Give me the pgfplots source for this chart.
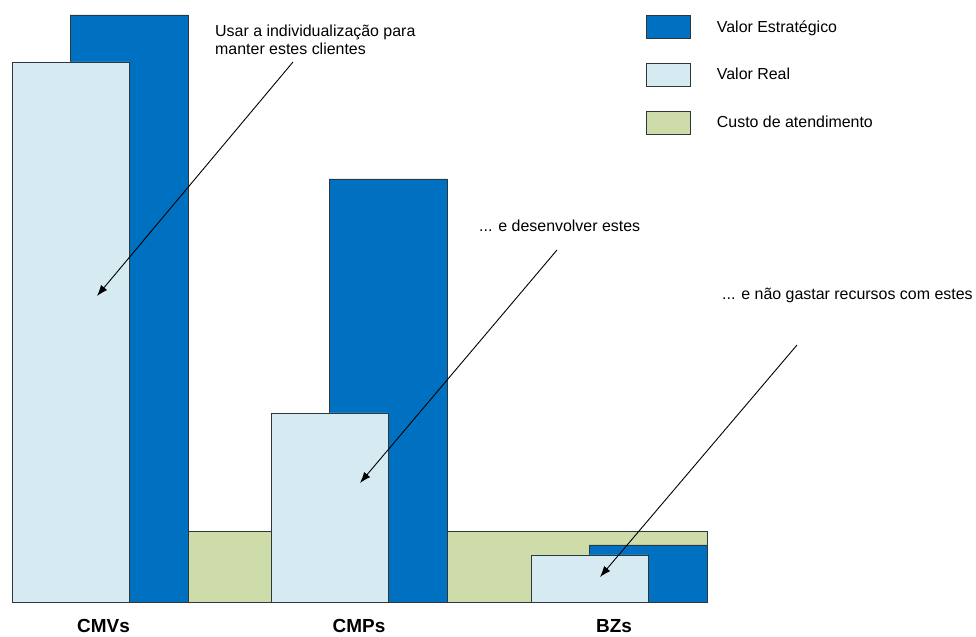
\documentclass[border=0pt]{standalone}
\usepackage{pgfplots}
\pgfplotsset{compat=1.18}
\usepackage{fontspec}
\setmainfont{Liberation Sans}
\usetikzlibrary{arrows.meta}
\definecolor{darkblue}{RGB}{0,112,192}
\definecolor{lightblue}{RGB}{214,234,241}
\definecolor{custgreen}{RGB}{206,220,170}
\definecolor{edge}{RGB}{45,55,60}
\begin{document}
\begin{tikzpicture}
\begin{axis}[
  name=ax,
  width=976bp, height=637bp, scale only axis,
  xmin=0, xmax=976, ymin=-35, ymax=602,
  hide axis, clip=false,
  legend style={at={(axis cs:646,587)}, anchor=north west, draw=none, fill=none,
    inner sep=0pt, outer sep=0pt, row sep=24bp, column sep=26bp,
    nodes={inner sep=0pt}, font=\fontsize{16}{19}\selectfont},
  legend cell align=left,
]
% Custo de atendimento (behind)
\addplot[ybar, bar shift=0pt, bar width=519, fill=custgreen, draw=edge, line width=0.9bp, forget plot]
  coordinates {(447.5,71)};
% Valor Estrategico
\addplot[ybar, bar shift=0pt, bar width=118, fill=darkblue, draw=edge, line width=0.9bp, forget plot]
  coordinates {(129,587) (388,423) (648,57)};
% Valor Real
\addplot[ybar, bar shift=0pt, bar width=117, fill=lightblue, draw=edge, line width=0.9bp, forget plot]
  coordinates {(70.5,540) (330,189) (589.5,47)};

\addlegendimage{legend image code/.code={\draw[fill=darkblue,draw=edge,line width=0.9bp] (0bp,-11.5bp) rectangle (44bp,11.5bp);}}
\addlegendentry{Valor Estratégico}
\addlegendimage{legend image code/.code={\draw[fill=lightblue,draw=edge,line width=0.9bp] (0bp,-11.5bp) rectangle (44bp,11.5bp);}}
\addlegendentry{Valor Real}
\addlegendimage{legend image code/.code={\draw[fill=custgreen,draw=edge,line width=0.9bp] (0bp,-11.5bp) rectangle (44bp,11.5bp);}}
\addlegendentry{Custo de atendimento}

% category labels
\node[anchor=base, inner sep=0pt, font=\bfseries\fontsize{19}{22}\selectfont] at (axis cs:103.5,-30) {CMVs};
\node[anchor=base, inner sep=0pt, font=\bfseries\fontsize{19}{22}\selectfont] at (axis cs:359,-30) {CMPs};
\node[anchor=base, inner sep=0pt, font=\bfseries\fontsize{19}{22}\selectfont] at (axis cs:614,-30) {BZs};

% annotations
\node[anchor=base west, inner sep=0pt, font=\fontsize{16}{19}\selectfont] at (axis cs:215,565) {Usar a individualização para};
\node[anchor=base west, inner sep=0pt, font=\fontsize{16}{19}\selectfont] at (axis cs:215,547) {manter estes clientes};
\node[anchor=base west, inner sep=0pt, font=\fontsize{16}{19}\selectfont] at (axis cs:479,370) {... e desenvolver estes};
\node[anchor=base west, inner sep=0pt, font=\fontsize{16}{19}\selectfont] at (axis cs:722,302) {... e não gastar recursos com estes};

\draw[line width=0.9bp, -{Latex[length=11bp,width=8bp]}] (axis cs:293,540) -- (axis cs:97,306);
\draw[line width=0.9bp, -{Latex[length=11bp,width=8bp]}] (axis cs:557,352) -- (axis cs:360,119);
\draw[line width=0.9bp, -{Latex[length=11bp,width=8bp]}] (axis cs:797,257) -- (axis cs:600,25);
\end{axis}
\pgfresetboundingbox
\path (ax.south west) rectangle (ax.north east);
\end{tikzpicture}
\end{document}
